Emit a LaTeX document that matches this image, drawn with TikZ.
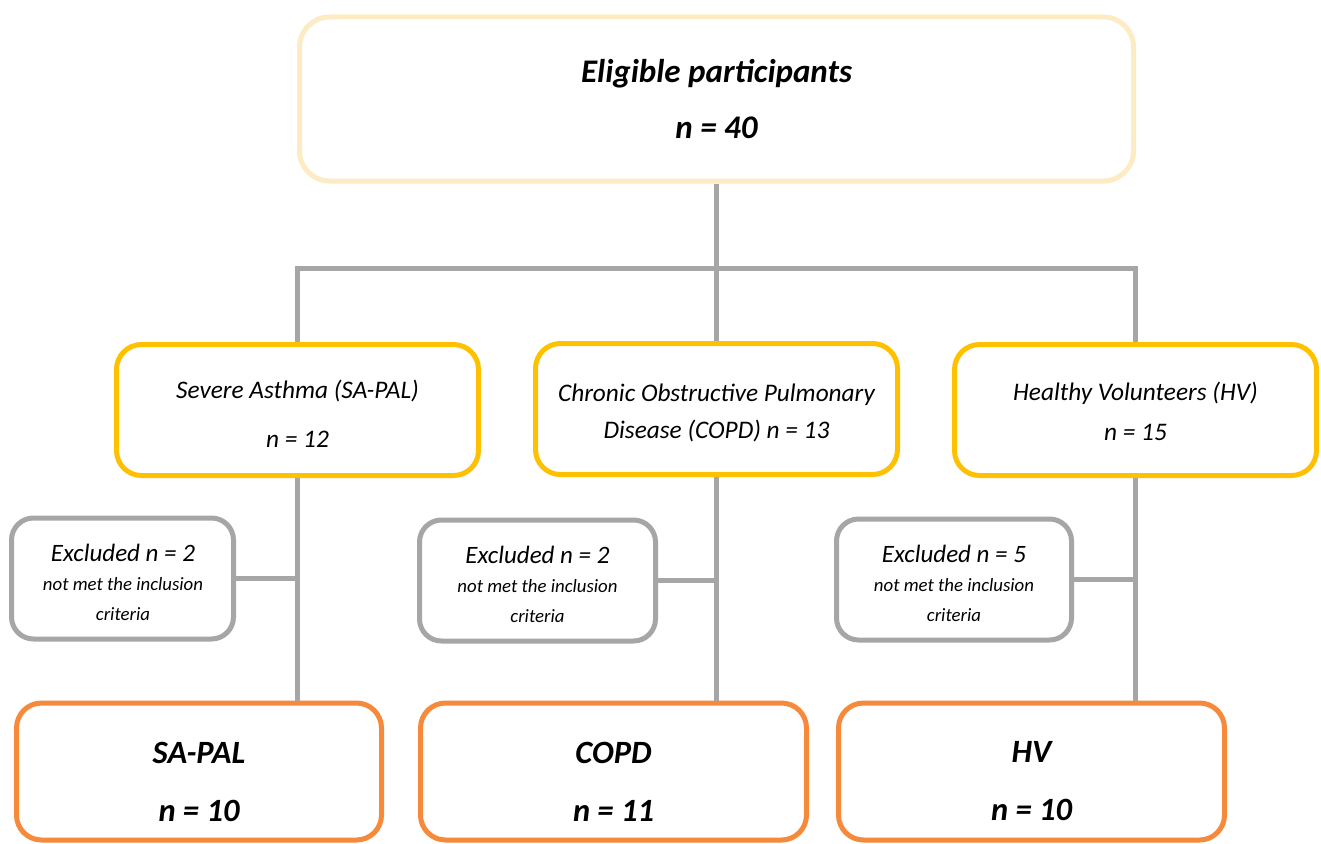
\documentclass[tikz,border=0pt]{standalone}
\usepackage{fontspec}
\setmainfont{Carlito}
\definecolor{cream}{HTML}{FDEBC4}
\definecolor{amber}{HTML}{FFC000}
\definecolor{orng}{HTML}{F6893A}
\definecolor{lgray}{HTML}{A6A6A6}
\tikzset{
  topbox/.style={draw=cream, line width=5pt, rounded corners=30pt, minimum width=834pt, minimum height=164pt, inner sep=0pt},
  grpbox/.style={draw=amber, line width=5pt, rounded corners=25pt, minimum width=362pt, minimum height=131pt, inner sep=0pt},
  exbox/.style={draw=lgray, line width=5pt, rounded corners=22pt, minimum height=121pt, inner sep=0pt},
  finbox/.style={draw=orng, line width=5pt, rounded corners=25pt, minimum height=137pt, inner sep=0pt},
  toptext/.style={align=center, inner sep=0pt, font=\fontsize{33}{56}\selectfont\bfseries\itshape},
  grptext/.style={align=center, inner sep=0pt, font=\fontsize{25.3}{#1}\selectfont\itshape},
  extext/.style={align=center, inner sep=0pt, font=\fontsize{18.8}{29.5}\selectfont\itshape},
  fintext/.style={align=center, inner sep=0pt, font=\fontsize{32.5}{58}\selectfont\bfseries\itshape},
  link/.style={draw=lgray, line width=5pt}
}
\begin{document}
\begin{tikzpicture}[x=1pt,y=-1pt]
\useasboundingbox (0,0) rectangle (1321,843);
\fill[white] (0,0) rectangle (1321,843);
% top
\node[topbox] (top) at (716.5,99) {};
\node[toptext] (tTop) at (top.center) {Eligible participants\\n = 40};
% groups
\node[grpbox] (gSA) at (297.5,410) {};
\node[grpbox] (gCOPD) at (716.5,409) {};
\node[grpbox] (gHV) at (1135.5,410) {};
\node[grptext=49] (tSA) at (297.5,413.5) {Severe Asthma (SA-PAL)\\n = 12};
\node[grptext=37] (tCOPD) at (716.5,412.5) {Chronic Obstructive Pulmonary\\Disease (COPD) n = 13};
\node[grptext=40] (tHV) at (1135.5,411) {Healthy Volunteers (HV)\\n = 15};
% excluded
\node[exbox, minimum width=222pt] (xSA) at (122.5,578.5) {};
\node[exbox, minimum width=236pt] (xCOPD) at (537.5,580.5) {};
\node[exbox, minimum width=235pt] (xHV) at (954,579.5) {};
\node[extext] (txSA) at (123,582) {{\fontsize{25}{30}\selectfont Excluded n = 2}\\not met the inclusion\\criteria};
\node[extext] (txCOPD) at (537.5,584) {{\fontsize{25}{30}\selectfont Excluded n = 2}\\not met the inclusion\\criteria};
\node[extext] (txHV) at (954,583) {{\fontsize{25}{30}\selectfont Excluded n = 5}\\not met the inclusion\\criteria};
% finals
\node[finbox, minimum width=365pt] (fSA) at (199,771.5) {};
\node[finbox, minimum width=386pt] (fCOPD) at (613.5,771.5) {};
\node[finbox, minimum width=386pt] (fHV) at (1031.5,771.5) {};
\node[fintext] (tfSA) at (199,781.5) {SA-PAL\\n = 10};
\node[fintext] (tfCOPD) at (613.5,781.5) {COPD\\n = 11};
\node[fintext] (tfHV) at (1031.5,781.5) {HV\\n = 10};
% bus
\coordinate (busL) at (297.5,268);
\coordinate (busR) at (1135.5,268);
\draw[link] (gSA.north) -- (busL) -- (busR) -- (gHV.north);
\draw[link] (top.south) -- (gCOPD.north);
% down lines
\draw[link] (gSA.south) -- (gSA.south |- fSA.north);
\draw[link] (gCOPD.south) -- (gCOPD.south |- fCOPD.north);
\draw[link] (gHV.south) -- (gHV.south |- fHV.north);
% exclusion links
\draw[link] (xSA.east) -- (xSA.east -| gSA.south);
\draw[link] (xCOPD.east) -- (xCOPD.east -| gCOPD.south);
\draw[link] (xHV.east) -- (xHV.east -| gHV.south);
\end{tikzpicture}
\end{document}
